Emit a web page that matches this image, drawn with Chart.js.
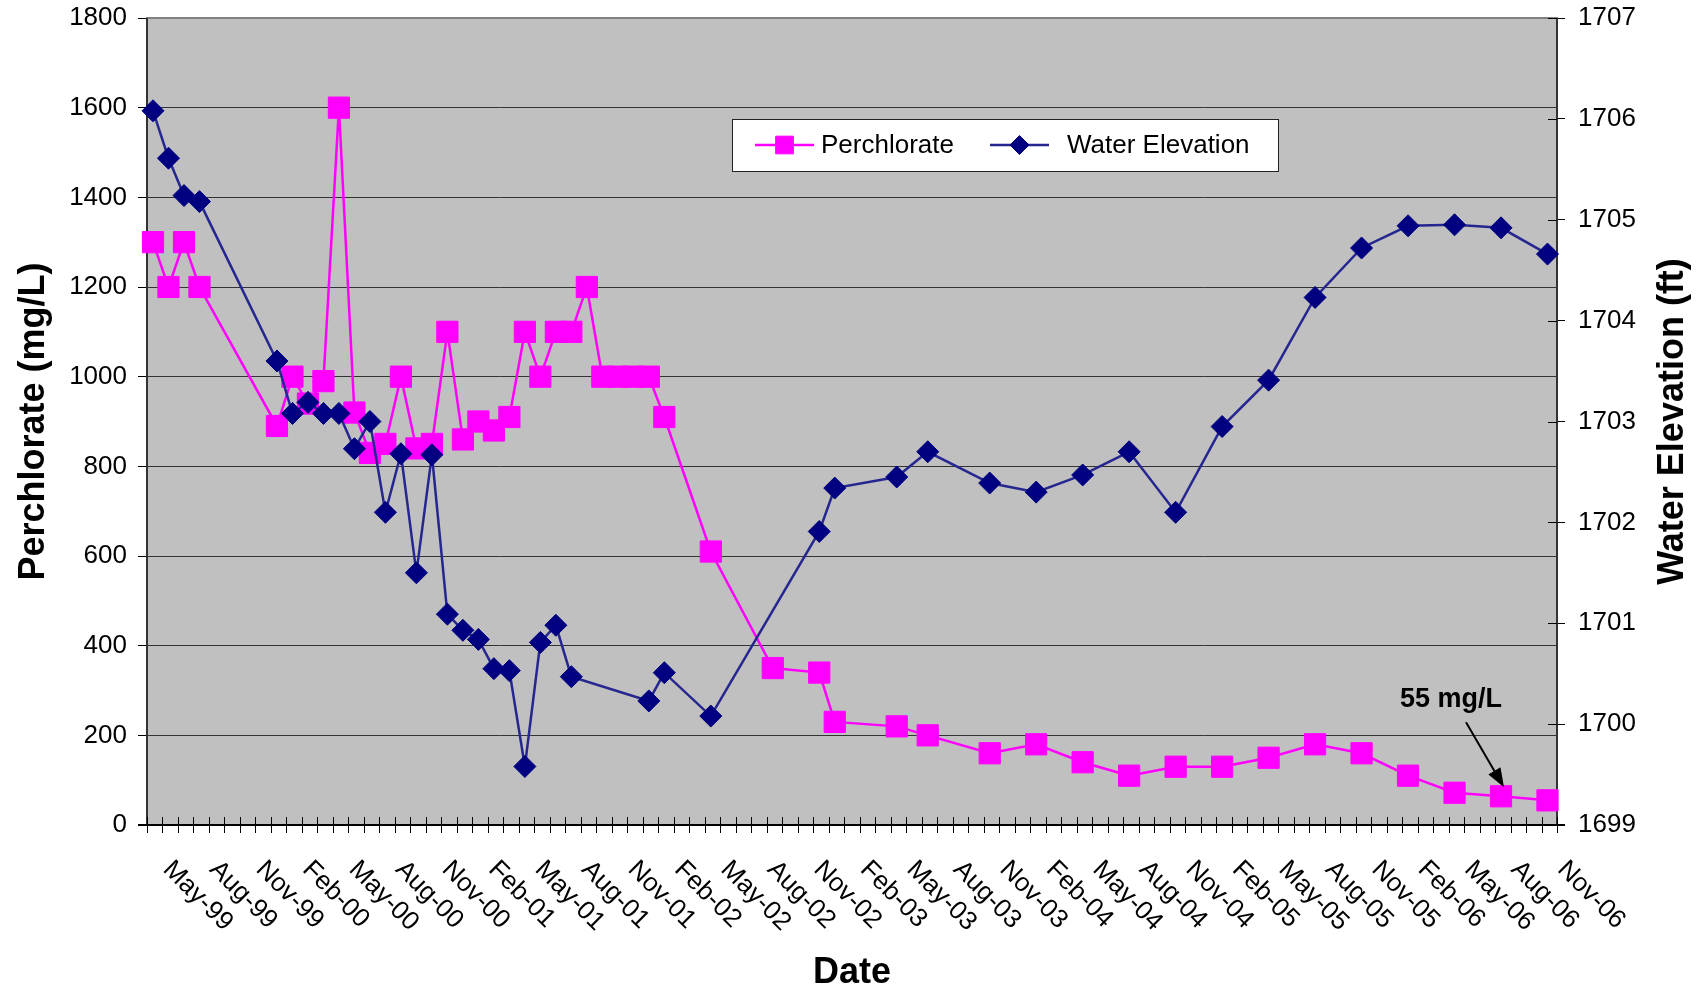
<!DOCTYPE html>
<html>
<head>
<meta charset="utf-8">
<title>Perchlorate and Water Elevation</title>
<script src="https://cdn.jsdelivr.net/npm/chart.js@4.4.1/dist/chart.umd.min.js"></script>
<style>
    html, body { margin: 0; padding: 0; background: #fff; }
    #wrap { width: 1702px; height: 991px; }
</style>
</head>
<body>
<div id="wrap"><canvas id="chart" width="1702" height="991"></canvas></div>
<script>
(function() {
    'use strict';

    // Perchlorate samples (mg/L)
    const perchDates = [
        '1999-04-13', '1999-05-13', '1999-06-13', '1999-07-13',
        '1999-12-13', '2000-01-13', '2000-02-13', '2000-03-13', '2000-04-13', '2000-05-13', '2000-06-13',
        '2000-07-13', '2000-08-13', '2000-09-13', '2000-10-13', '2000-11-13', '2000-12-13',
        '2001-01-13', '2001-02-13', '2001-03-13', '2001-04-13', '2001-05-13', '2001-06-13',
        '2001-07-13', '2001-08-13', '2001-09-13', '2001-10-13', '2001-11-13', '2001-12-13',
        '2002-01-13', '2002-04-13', '2002-08-13', '2002-11-13', '2002-12-13',
        '2003-04-13', '2003-06-13', '2003-10-13',
        '2004-01-13', '2004-04-13', '2004-07-13', '2004-10-13',
        '2005-01-13', '2005-04-13', '2005-07-13', '2005-10-13',
        '2006-01-13', '2006-04-13', '2006-07-13', '2006-10-13'
    ];
    const perchValues = [
        1300, 1200, 1300, 1200,
        890, 1000, 940, 990, 1600, 920, 830,
        850, 1000, 840, 850, 1100, 860,
        900, 880, 910, 1100, 1000, 1100,
        1100, 1200, 1000, 1000, 1000, 1000,
        910, 610, 350, 340, 230,
        220, 200, 160,
        180, 140, 110, 130,
        130, 150, 180, 160,
        110, 72, 64, 55
    ];

    // Water elevation readings (ft)
    const waterDates = [
        '1999-04-13', '1999-05-13', '1999-06-13', '1999-07-13',
        '1999-12-13', '2000-01-13', '2000-02-13', '2000-03-13', '2000-04-13', '2000-05-13', '2000-06-13',
        '2000-07-13', '2000-08-13', '2000-09-13', '2000-10-13', '2000-11-13', '2000-12-13',
        '2001-01-13', '2001-02-13', '2001-03-13', '2001-04-13', '2001-05-13', '2001-06-13', '2001-07-13',
        '2001-12-13', '2002-01-13', '2002-04-13', '2002-11-13', '2002-12-13',
        '2003-04-13', '2003-06-13', '2003-10-13',
        '2004-01-13', '2004-04-13', '2004-07-13', '2004-10-13',
        '2005-01-13', '2005-04-13', '2005-07-13', '2005-10-13',
        '2006-01-13', '2006-04-13', '2006-07-13', '2006-10-13'
    ];
    const waterValues = [
        1706.08, 1705.61, 1705.24, 1705.18,
        1703.60, 1703.08, 1703.19, 1703.08, 1703.08, 1702.73, 1703.00,
        1702.10, 1702.68, 1701.50, 1702.67, 1701.09, 1700.93,
        1700.84, 1700.55, 1700.53, 1699.58, 1700.81, 1700.98, 1700.47,
        1700.23, 1700.51, 1700.08, 1701.91, 1702.34,
        1702.45, 1702.70, 1702.39,
        1702.30, 1702.47, 1702.70, 1702.10,
        1702.95, 1703.41, 1704.23, 1704.72,
        1704.94, 1704.95, 1704.92, 1704.66
    ];

    // Date axis labels (every third month)
    const tickLabels = [
        'May-99', 'Aug-99', 'Nov-99',
        'Feb-00', 'May-00', 'Aug-00', 'Nov-00',
        'Feb-01', 'May-01', 'Aug-01', 'Nov-01',
        'Feb-02', 'May-02', 'Aug-02', 'Nov-02',
        'Feb-03', 'May-03', 'Aug-03', 'Nov-03',
        'Feb-04', 'May-04', 'Aug-04', 'Nov-04',
        'Feb-05', 'May-05', 'Aug-05', 'Nov-05',
        'Feb-06', 'May-06', 'Aug-06', 'Nov-06'
    ];
    const axisStart = 'Apr-99';
    const axisEnd = 'Nov-06';

    const noteText = '55 mg/L';
    const noteDate = '2006-07-13';

    const MONTHS = ['Jan', 'Feb', 'Mar', 'Apr', 'May', 'Jun', 'Jul', 'Aug', 'Sep', 'Oct', 'Nov', 'Dec'];
    const FONT = '"Liberation Sans", Arial, sans-serif';

    // months since Jan 1999
    function dateValue(iso) {
        const p = iso.split('-').map(Number);
        return (p[0] - 1999) * 12 + (p[1] - 1) + (p[2] - 1) / 31;
    }

    function labelValue(label) {
        const parts = label.split('-');
        const yy = Number(parts[1]);
        const year = yy > 50 ? 1900 + yy : 2000 + yy;
        return (year - 1999) * 12 + MONTHS.indexOf(parts[0]);
    }

    function toPoints(dates, values) {
        return dates.map(function(d, i) {
            return { x: dateValue(d), y: values[i] };
        });
    }

    /**
     * Plot background, frame and the date axis ticks
     */
    const framePlugin = {
        id: 'frame',
        beforeDraw: function(chart) {
            const a = chart.chartArea;
            const ctx = chart.ctx;
            ctx.save();
            ctx.fillStyle = '#c0c0c0';
            ctx.fillRect(a.left, a.top, a.right - a.left, a.bottom - a.top);
            ctx.restore();
        },
        beforeDatasetsDraw: function(chart) {
            const a = chart.chartArea;
            const ctx = chart.ctx;
            const xs = chart.scales.x;
            const y1 = chart.scales.y1;
            ctx.save();

            ctx.strokeStyle = '#808080';
            ctx.lineWidth = 2;
            ctx.strokeRect(a.left, a.top, a.right - a.left, a.bottom - a.top);

            ctx.strokeStyle = '#333';
            ctx.beginPath();
            ctx.moveTo(a.left, a.top);
            ctx.lineTo(a.left, a.bottom);
            ctx.moveTo(a.right, a.top);
            ctx.lineTo(a.right, a.bottom);
            ctx.stroke();

            ctx.strokeStyle = '#000';
            ctx.beginPath();
            ctx.moveTo(a.left - 9, a.bottom);
            ctx.lineTo(a.right + 8, a.bottom);
            ctx.stroke();

            // monthly ticks crossing the date axis
            ctx.lineWidth = 1;
            ctx.beginPath();
            for (let m = xs.min; m <= xs.max; m++) {
                const px = Math.round(xs.getPixelForValue(m)) + 0.5;
                ctx.moveTo(px, a.bottom - 8);
                ctx.lineTo(px, a.bottom + 8);
            }
            // inner half of the right axis ticks
            y1.ticks.forEach(function(t) {
                const py = Math.round(y1.getPixelForValue(t.value)) + 0.5;
                ctx.moveTo(a.right - 9, py);
                ctx.lineTo(a.right, py);
            });
            ctx.stroke();
            ctx.restore();
        },
        afterDraw: function(chart) {
            const a = chart.chartArea;
            const ctx = chart.ctx;
            const xs = chart.scales.x;
            const midY = (a.top + a.bottom) / 2;
            ctx.save();
            ctx.fillStyle = '#000';

            // rotated date labels
            ctx.font = '26px ' + FONT;
            ctx.textAlign = 'left';
            ctx.textBaseline = 'alphabetic';
            tickLabels.forEach(function(lbl) {
                const px = xs.getPixelForValue(labelValue(lbl));
                ctx.save();
                ctx.translate(px + 13, a.bottom + 32);
                ctx.rotate(Math.PI / 4);
                ctx.fillText(lbl, 0, 19);
                ctx.restore();
            });

            // axis titles
            ctx.font = 'bold 36px ' + FONT;
            ctx.textAlign = 'center';
            ctx.textBaseline = 'alphabetic';
            ctx.fillText('Date', (a.left + a.right) / 2, 983);

            ctx.textBaseline = 'middle';
            ctx.save();
            ctx.translate(34, midY);
            ctx.rotate(-Math.PI / 2);
            ctx.fillText('Perchlorate (mg/L)', 0, 0);
            ctx.restore();

            ctx.save();
            ctx.translate(1673, midY);
            ctx.rotate(-Math.PI / 2);
            ctx.fillText('Water Elevation (ft)', 0, 0);
            ctx.restore();

            ctx.restore();
        }
    };

    /**
     * Boxed legend inside the plot and the 55 mg/L note
     */
    const legendPlugin = {
        id: 'boxLegend',
        afterDatasetsDraw: function(chart) {
            const ctx = chart.ctx;
            const box = { x: 732, y: 119, w: 546, h: 52 };
            const items = [
                { ds: chart.data.datasets[0], lineX: 755, textX: 821 },
                { ds: chart.data.datasets[1], lineX: 990, textX: 1067 }
            ];
            const cy = box.y + box.h / 2;

            ctx.save();
            ctx.fillStyle = '#fff';
            ctx.fillRect(box.x, box.y, box.w, box.h);
            ctx.strokeStyle = '#222';
            ctx.lineWidth = 1;
            ctx.strokeRect(box.x + 0.5, box.y + 0.5, box.w, box.h);

            items.forEach(function(it) {
                ctx.strokeStyle = it.ds.borderColor;
                ctx.lineWidth = it.ds.borderWidth;
                ctx.beginPath();
                ctx.moveTo(it.lineX, cy);
                ctx.lineTo(it.lineX + 59, cy);
                ctx.stroke();
                ctx.fillStyle = it.ds.pointBackgroundColor;
                ctx.strokeStyle = it.ds.pointBorderColor;
                ctx.lineWidth = 1;
                Chart.helpers.drawPoint(ctx, {
                    pointStyle: it.ds.pointStyle,
                    radius: it.ds.pointStyle === 'rect' ? 12.5 : 9.5,
                    borderWidth: 1,
                    rotation: 0
                }, it.lineX + 29.5, cy);
                ctx.fillStyle = '#000';
                ctx.font = '26px ' + FONT;
                ctx.textAlign = 'left';
                ctx.textBaseline = 'middle';
                ctx.fillText(it.ds.label, it.textX, cy + 1);
            });

            // note with arrow pointing at the sample
            const xs = chart.scales.x;
            const ys = chart.scales.y;
            const idx = perchDates.indexOf(noteDate);
            const px = xs.getPixelForValue(dateValue(noteDate));
            const py = ys.getPixelForValue(perchValues[idx]);
            const tip = { x: px + 3, y: py - 9 };
            const tail = { x: tip.x - 38, y: tip.y - 65 };
            const ang = Math.atan2(tip.y - tail.y, tip.x - tail.x);
            const headLen = 19, headW = 7;
            const base = { x: tip.x - headLen * Math.cos(ang), y: tip.y - headLen * Math.sin(ang) };

            ctx.strokeStyle = '#000';
            ctx.fillStyle = '#000';
            ctx.lineWidth = 2;
            ctx.beginPath();
            ctx.moveTo(tail.x, tail.y);
            ctx.lineTo(base.x, base.y);
            ctx.stroke();
            ctx.beginPath();
            ctx.moveTo(tip.x, tip.y);
            ctx.lineTo(base.x + headW * Math.sin(ang), base.y - headW * Math.cos(ang));
            ctx.lineTo(base.x - headW * Math.sin(ang), base.y + headW * Math.cos(ang));
            ctx.closePath();
            ctx.fill();

            ctx.font = 'bold 27px ' + FONT;
            ctx.textAlign = 'center';
            ctx.textBaseline = 'alphabetic';
            ctx.fillText(noteText, px - 50, py - 89);
            ctx.restore();
        }
    };

    const tickFont = { family: FONT, size: 26 };

    // keep the y axes from pushing the plot down for half a label
    function fitVertical(width) {
        return function(scale) {
            scale.width = width;
            scale.paddingTop = 0;
            scale.paddingBottom = 0;
        };
    }

    new Chart(document.getElementById('chart'), {
        type: 'line',
        data: {
            datasets: [{
                label: 'Perchlorate',
                data: toPoints(perchDates, perchValues),
                yAxisID: 'y',
                order: 1,
                borderColor: '#ff00ff',
                borderWidth: 2.5,
                pointStyle: 'rect',
                pointRadius: 15,
                pointBackgroundColor: '#ff00ff',
                pointBorderColor: '#ff00ff',
                pointBorderWidth: 1,
                tension: 0,
                clip: false
            }, {
                label: 'Water Elevation',
                data: toPoints(waterDates, waterValues),
                yAxisID: 'y1',
                order: 0,
                borderColor: '#262690',
                borderWidth: 2.5,
                pointStyle: 'rectRot',
                pointRadius: 11,
                pointBackgroundColor: '#000080',
                pointBorderColor: '#000080',
                pointBorderWidth: 1,
                tension: 0,
                clip: false
            }]
        },
        options: {
            responsive: false,
            animation: false,
            devicePixelRatio: 1,
            layout: { padding: { top: 18, left: 0, right: 0, bottom: 0 } },
            plugins: {
                legend: { display: false },
                tooltip: { enabled: false }
            },
            scales: {
                x: {
                    type: 'linear',
                    min: labelValue(axisStart),
                    max: labelValue(axisEnd),
                    grid: { display: false },
                    border: { display: false },
                    ticks: { display: false },
                    afterFit: function(scale) { scale.height = 166; }
                },
                y: {
                    position: 'left',
                    min: 0,
                    max: 1800,
                    grid: { color: '#333', lineWidth: 1, tickColor: '#000', tickLength: 9 },
                    border: { display: false },
                    ticks: {
                        stepSize: 200,
                        padding: 11,
                        color: '#000',
                        font: tickFont,
                        callback: function(v) { return String(v); }
                    },
                    afterFit: fitVertical(147)
                },
                y1: {
                    position: 'right',
                    min: 1699,
                    max: 1707,
                    grid: { drawOnChartArea: false, tickColor: '#000', tickLength: 8 },
                    border: { display: false },
                    ticks: {
                        stepSize: 1,
                        padding: 13,
                        color: '#000',
                        font: tickFont,
                        callback: function(v) { return String(v); }
                    },
                    afterFit: fitVertical(145)
                }
            }
        },
        plugins: [framePlugin, legendPlugin]
    });
})();
</script>
</body>
</html>
